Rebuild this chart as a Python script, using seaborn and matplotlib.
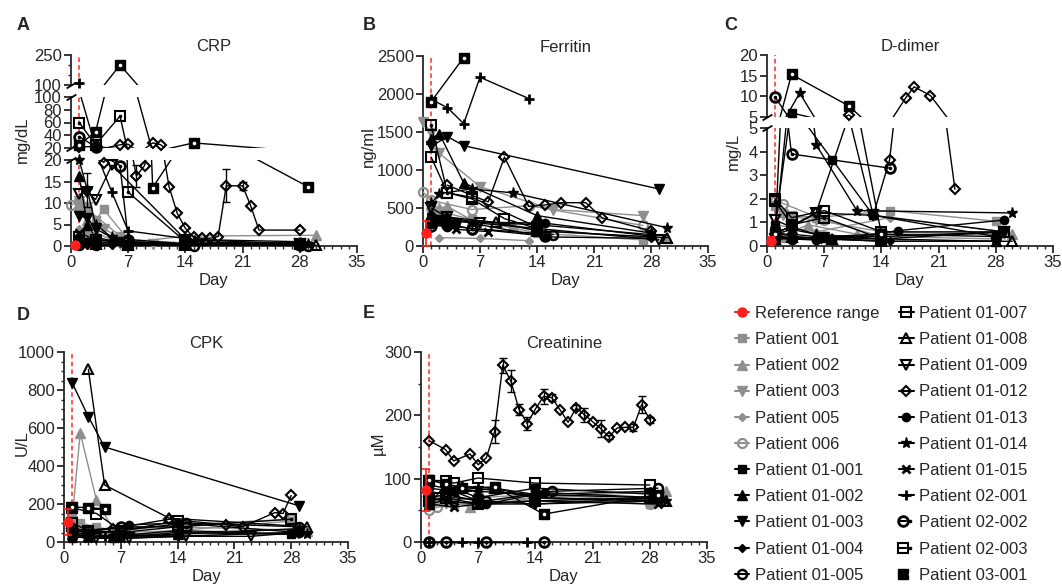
import numpy as np
import matplotlib
matplotlib.use("Agg")
import matplotlib.pyplot as plt
import seaborn as sns
from matplotlib.lines import Line2D
from matplotlib.legend_handler import HandlerTuple
from matplotlib.ticker import MultipleLocator, FixedLocator

sns.set_style("ticks")
plt.rcParams['font.family'] = ['Liberation Sans', 'DejaVu Sans']
plt.rcParams['font.size'] = 12

# ---------------- data ----------------
PATIENTS = ["Patient 001", "Patient 002", "Patient 003", "Patient 005", "Patient 006",
            "Patient 01-001", "Patient 01-002", "Patient 01-003", "Patient 01-004", "Patient 01-005",
            "Patient 01-007", "Patient 01-008", "Patient 01-009", "Patient 01-012", "Patient 01-013",
            "Patient 01-014", "Patient 01-015", "Patient 02-001", "Patient 02-002", "Patient 02-003",
            "Patient 03-001"]

CRP = {
    "Patient 001": ([1, 2, 3, 4, 7, 14, 28], [10, 8.5, 6, 8.5, 1.5, 0.7, 0.5]),
    "Patient 002": ([1, 2, 3, 5, 7, 14, 30], [9.5, 6, 3, 1.5, 0.8, 2.3, 2.5]),
    "Patient 003": ([1, 2, 4, 6, 10, 28], [10.5, 9, 4, 2, 0.5, 0.3]),
    "Patient 005": ([1, 2, 3, 6, 14, 28], [4, 3, 1, 0.5, 0.3, 0.2]),
    "Patient 006": ([0, 1, 2, 7, 14, 28], [9.5, 10.5, 8.5, 0.8, 0.4, 0.3]),
    "Patient 01-001": ([1, 2, 3, 7, 14, 28], [1.5, 1, 0.5, 0.3, 0.2, 0.2]),
    "Patient 01-002": ([1, 2, 3, 7, 14, 28], [16.3, 5, 2, 0.5, 0.4, 0.8]),
    "Patient 01-003": ([1, 2, 3, 6, 14, 28], [7, 6.5, 4, 1, 0.5, 0.5]),
    "Patient 01-004": ([1, 2, 5, 14, 28], [0.5, 0.3, 0.2, 0.2, 0.1]),
    "Patient 01-005": ([1, 3, 7, 15, 29], [0.3, 0.2, 0.3, 0.1, 0.1]),
    "Patient 01-007": ([1, 3, 7, 14, 28], [2, 1.5, 0.8, 0.5, 0.4]),
    "Patient 01-008": ([1, 3, 7, 14, 30], [1, 0.5, 0.3, 0.3, 0.2]),
    "Patient 01-009": ([1, 2, 3, 5, 14, 28], [12, 12.5, 10.8, 18.8, 1.5, 0.5]),
    "Patient 01-012": ([1, 3, 4, 6, 7, 8, 9, 10, 11, 12, 13, 14, 15, 16, 17, 18, 19, 21, 22, 23, 28],
                       [22, 22, 19.4, 25, 26, 16.3, 18.7, 28, 25, 13.8, 7.6, 4.1, 2, 1.8, 1.8, 2.2,
                        14, 14, 9.3, 3.7, 3.7]),
    "Patient 01-013": ([1, 3, 7, 14, 28], [2, 1, 0.5, 0.3, 0.3]),
    "Patient 01-014": ([1, 2, 3, 5, 7, 14, 29], [20, 13, 5, 2, 1, 0.5, 0.5]),
    "Patient 01-015": ([1, 3, 7, 14], [3, 1.5, 0.5, 0.3]),
    "Patient 02-001": ([1, 3, 5, 7, 15, 28], [110, 22, 12.5, 3.5, 1.5, 1]),
    "Patient 02-002": ([1, 3, 6, 7, 14, 28], [38, 22, 18.7, 1.5, 0.5, 0.3]),
    "Patient 02-003": ([1, 3, 6, 7, 14, 28], [60, 25, 70, 12.5, 1, 0.5]),
    "Patient 03-001": ([1, 3, 6, 10, 15, 29], [25, 45, 200, 13.6, 28, 13.8]),
}
CRP_ERR = {
    "Patient 01-012": [0, 0, 0, 0, 0, 2.5, 0, 0, 0, 0, 0, 0, 0, 0, 0, 0, 3.8, 1, 0, 0, 0],
    "Patient 01-014": [0, 4, 0, 0, 0, 0, 0],
}

FER = {
    "Patient 001": ([1, 2, 3, 6, 14, 27], [450, 420, 430, 350, 170, 80]),
    "Patient 002": ([1, 2, 3, 6, 11, 14, 30], [550, 500, 520, 340, 280, 200, 100]),
    "Patient 003": ([0, 1, 2, 7, 16, 27], [1630, 1490, 1220, 780, 480, 400]),
    "Patient 005": ([2, 7, 13], [110, 100, 70]),
    "Patient 006": ([0, 1, 6, 13, 27], [710, 600, 480, 530, 270]),
    "Patient 01-001": ([1, 2, 3, 14, 28], [300, 350, 330, 280, 150]),
    "Patient 01-002": ([1, 2, 5, 14, 28], [1410, 1480, 830, 400, 170]),
    "Patient 01-003": ([1, 3, 5, 29], [1310, 1440, 1320, 750]),
    "Patient 01-004": ([1, 3, 6, 15, 28], [420, 370, 300, 120, 100]),
    "Patient 01-005": ([1, 3, 6, 16], [300, 280, 230, 150]),
    "Patient 01-007": ([1, 3, 6, 10, 14], [1170, 700, 620, 360, 230]),
    "Patient 01-008": ([1, 3, 9, 14, 30], [400, 380, 310, 200, 110]),
    "Patient 01-009": ([1, 3, 7, 29], [500, 380, 300, 80]),
    "Patient 01-012": ([3, 8, 10, 13, 15, 17, 20, 22, 28], [800, 580, 1170, 520, 540, 570, 570, 370, 200]),
    "Patient 01-013": ([1, 3, 4, 15, 28], [330, 250, 320, 300, 130]),
    "Patient 01-014": ([1, 2, 6, 11, 30], [560, 690, 750, 700, 240]),
    "Patient 01-015": ([1, 4, 8], [300, 220, 190]),
    "Patient 02-001": ([1, 3, 5, 7, 13], [1930, 1820, 1610, 2220, 1940]),
    "Patient 02-002": ([1, 3, 6, 15], [260, 270, 230, 130]),
    "Patient 02-003": ([1, 3, 6, 14], [1590, 700, 640, 250]),
    "Patient 03-001": ([1, 5], [1900, 2480]),
}

DD = {
    "Patient 001": ([1, 2, 3, 6, 15, 28], [1.7, 1.4, 1.3, 1.2, 1.5, 1.05]),
    "Patient 002": ([1, 2, 3, 5, 11, 30], [0.5, 0.4, 0.6, 0.9, 0.5, 0.5]),
    "Patient 003": ([1, 2, 6, 14, 29], [1.7, 1.3, 1.1, 0.6, 0.5]),
    "Patient 005": ([1, 6, 15, 29], [0.9, 0.6, 1.2, 0.6]),
    "Patient 006": ([1, 2, 7, 14, 28], [1.9, 1.8, 1.1, 0.4, 0.3]),
    "Patient 01-001": ([1, 3, 8, 13, 28], [0.9, 6.0, 3.65, 1.3, 0.4]),
    "Patient 01-002": ([1, 3, 6, 14, 28], [0.5, 0.7, 0.5, 0.3, 0.2]),
    "Patient 01-003": ([1, 3, 7, 14, 29], [0.6, 0.8, 0.4, 0.4, 0.6]),
    "Patient 01-004": ([1, 3, 6, 15, 28], [0.5, 0.3, 0.3, 0.2, 0.2]),
    "Patient 01-005": ([1, 3, 7, 14, 28], [0.3, 0.3, 0.4, 0.5, 0.4]),
    "Patient 01-007": ([1, 3, 7, 14, 29], [2.0, 1.2, 1.5, 0.6, 0.6]),
    "Patient 01-008": ([1, 3, 8, 14, 30], [0.3, 0.4, 0.3, 0.2, 0.2]),
    "Patient 01-009": ([1, 3, 6, 13, 29], [1.1, 0.8, 1.4, 1.3, 0.6]),
    "Patient 01-012": ([1, 6, 10, 13, 15, 17, 18, 20, 23], [0.5, 1.4, 5.5, 1.3, 3.65, 9.7, 12.3, 10.2, 2.4]),
    "Patient 01-013": ([1, 3, 6, 8, 16, 29], [0.4, 0.3, 0.25, 0.25, 0.65, 1.1]),
    "Patient 01-014": ([1, 4, 6, 11, 30], [0.5, 10.8, 4.3, 1.5, 1.4]),
    "Patient 01-015": ([1, 3, 7, 14], [0.6, 0.4, 0.3, 0.3]),
    "Patient 02-001": ([1, 3, 6, 14], [0.5, 0.5, 0.4, 0.3]),
    "Patient 02-002": ([1, 3, 15], [9.8, 3.9, 3.3]),
    "Patient 02-003": ([1, 3, 7, 14, 29], [1.9, 0.9, 1.2, 0.3, 0.6]),
    "Patient 03-001": ([1, 3, 10, 14], [0.5, 15.3, 7.7, 0.5]),
}

CPK = {
    "Patient 001": ([1, 2, 4, 7, 14, 28], [150, 100, 80, 50, 60, 110]),
    "Patient 002": ([1, 2, 4, 6, 14, 30], [120, 575, 220, 70, 80, 60]),
    "Patient 003": ([1, 3, 7, 14, 29], [110, 60, 40, 50, 70]),
    "Patient 005": ([1, 3, 6, 14, 28], [60, 40, 40, 30, 50]),
    "Patient 006": ([1, 2, 7, 14, 28], [80, 70, 60, 90, 120]),
    "Patient 01-001": ([1, 3, 6, 14, 28], [20, 30, 20, 50, 40]),
    "Patient 01-002": ([1, 3, 6, 14, 29], [40, 30, 30, 40, 70]),
    "Patient 01-003": ([1, 3, 5, 29], [838, 660, 500, 190]),
    "Patient 01-004": ([1, 3, 7, 14, 28], [30, 20, 20, 30, 50]),
    "Patient 01-005": ([1, 3, 7, 15, 29], [50, 40, 60, 100, 80]),
    "Patient 01-007": ([1, 4, 7, 14], [180, 150, 60, 110]),
    "Patient 01-008": ([3, 5, 13, 30], [909, 300, 125, 80]),
    "Patient 01-009": ([1, 4, 8, 15, 23, 29], [40, 20, 20, 30, 30, 50]),
    "Patient 01-012": ([1, 6, 13, 20, 22, 26, 27, 28], [60, 70, 120, 90, 80, 155, 150, 245]),
    "Patient 01-013": ([1, 3, 8, 14, 29], [60, 50, 90, 100, 50]),
    "Patient 01-014": ([1, 3, 6, 14, 30], [50, 40, 30, 60, 40]),
    "Patient 01-015": ([1, 3, 7, 14], [30, 20, 20, 40]),
    "Patient 02-001": ([1, 3, 5, 7, 14], [40, 30, 30, 40, 30]),
    "Patient 02-002": ([1, 3, 7, 15], [70, 60, 80, 80]),
    "Patient 02-003": ([1, 3, 7, 14, 28], [100, 60, 50, 80, 120]),
    "Patient 03-001": ([1, 3, 5], [185, 180, 175]),
}

CRE = {
    "Patient 001": ([1, 2, 4, 7, 14, 28], [70, 65, 60, 60, 65, 60]),
    "Patient 002": ([1, 3, 6, 14, 30], [75, 70, 55, 70, 80]),
    "Patient 003": ([1, 3, 7, 14, 29], [60, 65, 70, 75, 65]),
    "Patient 005": ([1, 3, 6, 14, 28], [55, 60, 60, 65, 60]),
    "Patient 006": ([1, 2, 7, 14, 28], [50, 55, 65, 70, 60]),
    "Patient 01-001": ([1, 3, 7, 14, 29], [100, 90, 70, 85, 75]),
    "Patient 01-002": ([1, 3, 5, 9, 14, 28], [60, 90, 88, 85, 75, 70]),
    "Patient 01-003": ([1, 3, 7, 14, 29], [70, 65, 60, 60, 65]),
    "Patient 01-004": ([1, 3, 7, 14, 28], [90, 85, 80, 75, 80]),
    "Patient 01-005": ([1, 4, 8, 16, 29], [60, 70, 65, 80, 85]),
    "Patient 01-007": ([1, 3, 4, 7, 14, 28], [97, 97, 93, 101, 93, 90]),
    "Patient 01-008": ([1, 3, 9, 14, 30], [80, 75, 85, 70, 65]),
    "Patient 01-009": ([1, 3, 7, 14, 29], [70, 75, 65, 60, 70]),
    "Patient 01-012": ([1, 3, 4, 6, 7, 8, 9, 10, 11, 12, 13, 14, 15, 16, 17, 18, 19, 20, 21, 22, 23, 24, 25, 26, 27, 28],
                       [160, 146, 128, 139, 122, 133, 174, 279, 254, 209, 187, 210, 230, 228, 209, 189, 212,
                        201, 190, 179, 166, 180, 181, 181, 217, 193]),
    "Patient 01-013": ([1, 4, 8, 15, 29], [85, 80, 60, 78, 70]),
    "Patient 01-014": ([1, 3, 7, 14, 30], [75, 80, 85, 70, 65]),
    "Patient 01-015": ([1, 4, 7, 14, 29], [60, 55, 60, 65, 60]),
    "Patient 02-001": ([1, 5, 7, 13], [0, 0, 0, 0]),
    "Patient 02-002": ([1, 3, 8, 15], [0, 0, 0, 0]),
    "Patient 02-003": ([1, 3, 7, 14, 28], [65, 70, 60, 65, 70]),
    "Patient 03-001": ([1, 3, 5, 9, 15, 29], [98, 92, 85, 87, 44, 75]),
}
CRE_ERR = {
    "Patient 01-012": [0, 0, 0, 0, 0, 0, 18, 12, 17, 9, 10, 0, 12, 5, 0, 0, 4, 11, 0, 13, 3, 0, 0, 5, 13, 5],
}

REF_DAY = [0.5, 0.4, 0.5, 0.45, 0.6]
REF_VAL = [0.3, 167, 0.22, 105, 82]
REF_ERR = [0.0, 165, 0.15, 70, 33]

# ---------------- styles ----------------
GRAY = '#8f8f8f'
K = '#000000'
STYLE = {
    "Patient 001": dict(marker='s', ms=6, color=GRAY, fill=True),
    "Patient 002": dict(marker='^', ms=6.5, color=GRAY, fill=True),
    "Patient 003": dict(marker='v', ms=6.5, color=GRAY, fill=True),
    "Patient 005": dict(marker='D', ms=4.5, color=GRAY, fill=True),
    "Patient 006": dict(marker='o', ms=6.5, color=GRAY, fill=False, mew=1.6),
    "Patient 01-001": dict(marker='s', ms=6, color=K, fill=True),
    "Patient 01-002": dict(marker='^', ms=6.5, color=K, fill=True),
    "Patient 01-003": dict(marker='v', ms=6.5, color=K, fill=True),
    "Patient 01-004": dict(marker='D', ms=4.5, color=K, fill=True),
    "Patient 01-005": dict(marker='o', ms=6.5, color=K, fill=False, mew=1.8),
    "Patient 01-007": dict(marker='s', ms=6.5, color=K, fill=False, mew=1.5),
    "Patient 01-008": dict(marker='^', ms=7, color=K, fill=False, mew=1.5),
    "Patient 01-009": dict(marker='v', ms=7, color=K, fill=False, mew=1.5),
    "Patient 01-012": dict(marker='D', ms=5.5, color=K, fill=False, mew=1.5),
    "Patient 01-013": dict(marker='o', ms=6, color=K, fill=True),
    "Patient 01-014": dict(marker='*', ms=8, color=K, fill=True),
    "Patient 01-015": dict(marker='x', ms=6, color=K, fill=True, mew=2),
    "Patient 02-001": dict(marker='+', ms=7, color=K, fill=True, mew=2),
    "Patient 02-002": dict(marker='o', ms=7, color=K, fill=False, mew=2, dot=K),
    "Patient 02-003": dict(marker='s', ms=6.5, color=K, fill=False, mew=1.5, dot=K),
    "Patient 03-001": dict(marker='s', ms=7, color=K, fill=True, dot='white'),
}


def marker_kw(st):
    return dict(marker=st['marker'], ms=st['ms'], mec=st['color'],
                mfc=st['color'] if st['fill'] else 'none', mew=st.get('mew', 1.0))


W, H = 1062, 586
fig = plt.figure(figsize=(W / 100, H / 100), dpi=100)


def px_rect(x0, x1, ytop, ybot):
    return [x0 / W, (H - ybot) / H, (x1 - x0) / W, (ybot - ytop) / H]


def style_ax(ax, bottom=True):
    for s in ['top', 'right']:
        ax.spines[s].set_visible(False)
    ax.spines['left'].set_linewidth(1.3)
    ax.spines['bottom'].set_linewidth(1.3)
    ax.tick_params(which='major', length=5, width=1.3, labelsize=12, direction='out', pad=1.5)
    ax.tick_params(which='minor', length=2.5, width=1.0, direction='out')
    ax.set_xlim(0, 35)
    ax.xaxis.set_major_locator(FixedLocator([0, 7, 14, 21, 28, 35]))
    ax.xaxis.set_minor_locator(MultipleLocator(1))
    ax.set_xlabel('')
    ax.set_ylabel('')
    ax.patch.set_alpha(0)
    if not bottom:
        ax.spines['bottom'].set_visible(False)
        ax.tick_params(axis='x', which='both', bottom=False, labelbottom=False)
    else:
        ax.set_xlabel('Day', fontsize=12, labelpad=2)


def seg_index(v, segs):
    for i, (lo, hi) in enumerate(segs):
        if v <= hi:
            return i
    return len(segs) - 1


def draw_panel(axes, segs, data, errs, ref_i):
    multi = len(axes) > 1
    for ax in axes:
        ax.axvline(1, color='#ff2a2a', lw=1.1, ls=(0, (3, 2)), zorder=1)
    for i, p in enumerate(PATIENTS):
        st = STYLE[p]
        d, v = data[p]
        d = np.asarray(d, float)
        v = np.asarray(v, float)
        e = np.asarray(errs.get(p, np.zeros(len(v))), float)
        z = 3 + i * 0.05
        for ax in axes:
            sns.lineplot(x=d, y=v, ax=ax, color=st['color'], linewidth=1.0, sort=False,
                         errorbar=None, legend=False, zorder=z, clip_on=multi)
        idx = np.array([seg_index(val, segs) for val in v])
        for k, ax in enumerate(axes):
            m = idx == k
            if not m.any():
                continue
            me = m & (e > 0)
            if me.any():
                ax.errorbar(d[me], v[me], yerr=e[me], fmt='none', ecolor=st['color'], elinewidth=1,
                            capsize=3, capthick=1, zorder=z, clip_on=False)
            ax.plot(d[m], v[m], ls='none', zorder=z + 0.01, clip_on=False, **marker_kw(st))
            if st.get('dot'):
                ax.plot(d[m], v[m], ls='none', marker='o', ms=1.6, mfc=st['dot'], mec=st['dot'],
                        zorder=z + 0.02, clip_on=False)
    ax0 = axes[0]
    rv, re = REF_VAL[ref_i], REF_ERR[ref_i]
    ax0.errorbar([REF_DAY[ref_i]], [rv], yerr=[re] if re > 0 else None, fmt='o', color='#ff1f1f',
                 ms=6.5, elinewidth=1.2, capsize=3, capthick=1.2, zorder=20, clip_on=False)
    for k, (lo, hi) in enumerate(segs):
        axes[k].set_ylim(lo, hi)


def break_marks(axes):
    kw = dict(marker=[(-1, -0.6), (1, 0.6)], markersize=7, linestyle='none', color='k', mec='k',
              mew=1.3, clip_on=False, zorder=30)
    for k, ax in enumerate(axes):
        if k > 0:
            ax.plot([0], [0], transform=ax.transAxes, **kw)
        if k < len(axes) - 1:
            ax.plot([0], [1], transform=ax.transAxes, **kw)


# ---------------- panel A: CRP (broken axis) ----------------
segA = [(0, 20), (20, 100), (100, 250)]
axA = [fig.add_axes(px_rect(71, 357, 160, 246)),
       fig.add_axes(px_rect(71, 357, 97, 148)),
       fig.add_axes(px_rect(71, 357, 55, 85))]
draw_panel(axA, segA, CRP, CRP_ERR, 0)
style_ax(axA[0], True)
style_ax(axA[1], False)
style_ax(axA[2], False)
axA[0].yaxis.set_major_locator(FixedLocator([0, 5, 10, 15, 20]))
axA[1].yaxis.set_major_locator(FixedLocator([20, 40, 60, 80, 100]))
axA[2].yaxis.set_major_locator(FixedLocator([100, 250]))
axA[2].yaxis.set_minor_locator(FixedLocator([150, 200]))
break_marks(axA)
axA[2].set_title('CRP', fontsize=12, pad=3)
fig.text(22 / W, 1 - 140 / H, 'mg/dL', rotation=90, ha='center', va='center', fontsize=12)

# ---------------- panel B: Ferritin ----------------
axB = fig.add_axes(px_rect(423, 708, 56, 246))
draw_panel([axB], [(0, 2500)], FER, {}, 1)
style_ax(axB, True)
axB.yaxis.set_major_locator(FixedLocator([0, 500, 1000, 1500, 2000, 2500]))
axB.set_title('Ferritin', fontsize=12, pad=3)
fig.text(368 / W, 1 - 147 / H, 'ng/ml', rotation=90, ha='center', va='center', fontsize=12)

# ---------------- panel C: D-dimer (broken axis) ----------------
segC = [(0, 5), (5, 20)]
axC = [fig.add_axes(px_rect(767, 1053, 128, 246)),
       fig.add_axes(px_rect(767, 1053, 55, 117))]
draw_panel(axC, segC, DD, {}, 2)
style_ax(axC[0], True)
style_ax(axC[1], False)
axC[0].yaxis.set_major_locator(FixedLocator([0, 1, 2, 3, 4, 5]))
axC[1].yaxis.set_major_locator(FixedLocator([5, 10, 15, 20]))
break_marks(axC)
axC[1].set_title('D-dimer', fontsize=12, pad=3)
fig.text(733 / W, 1 - 151 / H, 'mg/L', rotation=90, ha='center', va='center', fontsize=12)

# ---------------- panel D: CPK ----------------
axD = fig.add_axes(px_rect(64, 348, 352, 542))
draw_panel([axD], [(0, 1000)], CPK, {}, 3)
style_ax(axD, True)
axD.yaxis.set_major_locator(FixedLocator([0, 200, 400, 600, 800, 1000]))
axD.yaxis.set_minor_locator(MultipleLocator(50))
axD.set_title('CPK', fontsize=12, pad=3)
fig.text(22 / W, 1 - 443 / H, 'U/L', rotation=90, ha='center', va='center', fontsize=12)

# ---------------- panel E: Creatinine ----------------
axE = fig.add_axes(px_rect(421, 707, 352, 542))
draw_panel([axE], [(0, 300)], CRE, CRE_ERR, 4)
style_ax(axE, True)
axE.yaxis.set_major_locator(FixedLocator([0, 100, 200, 300]))
axE.yaxis.set_minor_locator(MultipleLocator(50))
axE.set_title('Creatinine', fontsize=12, pad=3)
fig.text(378 / W, 1 - 443 / H, 'µM', rotation=90, ha='center', va='center', fontsize=12)

# ---------------- panel letters ----------------
for lab, x, y in [('A', 17, 25), ('B', 363, 25), ('C', 724, 25), ('D', 17, 316), ('E', 363, 314)]:
    fig.text(x / W, 1 - y / H, lab, fontsize=13, fontweight='bold', ha='left', va='center')

# ---------------- legend ----------------
handles = [Line2D([], [], color='#ff1f1f', marker='o', ms=6.5, lw=1.5)]
for p in PATIENTS:
    st = STYLE[p]
    h = Line2D([], [], color=st['color'], lw=1.5, **marker_kw(st))
    if st.get('dot'):
        h = (h, Line2D([], [], ls='none', marker='o', ms=1.6, mfc=st['dot'], mec=st['dot']))
    handles.append(h)
labels = ['Reference range'] + PATIENTS
fig.legend(handles, labels, ncol=2, loc='upper left', bbox_to_anchor=(735 / W, 1 - 306 / H),
           frameon=False, fontsize=12, handlelength=0.85, handletextpad=0.35, columnspacing=1.2,
           labelspacing=0.67, borderpad=0, borderaxespad=0,
           handler_map={tuple: HandlerTuple(ndivide=None, pad=0)})

fig.savefig('out.png', dpi=100)
